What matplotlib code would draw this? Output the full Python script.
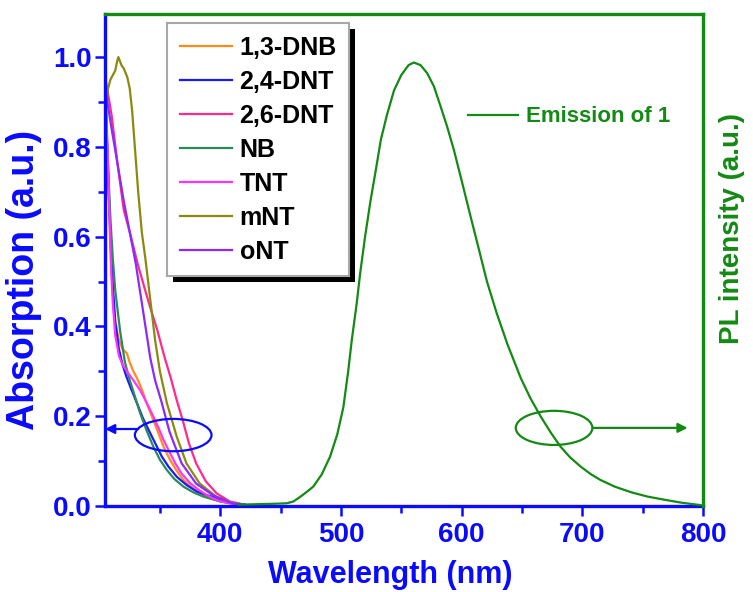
import matplotlib
matplotlib.use("Agg")
import matplotlib.pyplot as plt
from matplotlib.patches import Ellipse, Rectangle

plt.rcParams['font.family'] = ['Liberation Sans', 'DejaVu Sans']
plt.rcParams['font.weight'] = 'bold'

BLUE = '#0a0aff'
GREEN = '#138a13'

# Absorption spectra of the nitro analytes (wavelength in nm, absorbance in a.u.)
wl_dnb13 = [305, 306.5, 308, 309.5, 311, 313, 316, 319, 322.6, 325, 328, 331, 335, 339, 344,
            348.8, 353, 358.5, 364, 369.5, 376, 383, 393, 405, 420]
ab_dnb13 = [0.92, 0.80, 0.67, 0.55, 0.47, 0.41, 0.37, 0.35, 0.34, 0.32, 0.30, 0.285, 0.26, 0.229,
            0.195, 0.162, 0.132, 0.102, 0.078, 0.058, 0.042, 0.029, 0.016, 0.007, 0.003]

wl_dnt24 = [305, 307, 309, 311, 313, 316, 319, 322, 326, 331, 336, 342, 347, 351.6, 357, 364,
            372, 380.6, 389, 397, 407, 420]
ab_dnt24 = [0.90, 0.74, 0.60, 0.49, 0.41, 0.35, 0.315, 0.29, 0.262, 0.229, 0.195, 0.162, 0.135,
            0.11, 0.088, 0.065, 0.047, 0.032, 0.024, 0.018, 0.008, 0.003]

wl_dnt26 = [305, 310, 315, 320, 326, 332, 340, 348, 354, 359, 364, 369, 374, 380, 388, 397, 408, 420]
ab_dnt26 = [0.95, 0.87, 0.76, 0.66, 0.60, 0.535, 0.46, 0.39, 0.33, 0.285, 0.235, 0.19, 0.14,
            0.095, 0.055, 0.028, 0.010, 0.003]

wl_nb = [305, 307, 309, 311, 313, 317, 321, 325, 328, 333.6, 339, 344.6, 350, 355.8, 362,
         369.6, 378, 386, 400, 420]
ab_nb = [0.88, 0.76, 0.64, 0.55, 0.48, 0.39, 0.32, 0.28, 0.255, 0.207, 0.168, 0.132, 0.103,
         0.080, 0.060, 0.043, 0.030, 0.021, 0.010, 0.003]

wl_tnt = [305, 306.5, 308, 309.5, 311, 313, 316, 319, 322.6, 328, 333.6, 339, 344.6, 349, 353,
          358, 362.7, 368, 375, 382, 389, 398, 410, 420]
ab_tnt = [0.93, 0.80, 0.66, 0.53, 0.45, 0.38, 0.335, 0.315, 0.30, 0.28, 0.258, 0.23, 0.199,
          0.173, 0.147, 0.12, 0.095, 0.072, 0.051, 0.036, 0.024, 0.012, 0.005, 0.003]

wl_mnt = [305, 307, 309, 311, 313, 314.5, 315.6, 317, 318.5, 320, 321.5, 323, 325, 327, 329.5,
          332, 335, 338, 342, 346, 350, 355.8, 364, 372, 383, 397, 411, 420]
ab_mnt = [0.88, 0.93, 0.95, 0.96, 0.97, 0.99, 1.0, 0.99, 0.98, 0.975, 0.965, 0.955, 0.93, 0.88,
          0.79, 0.70, 0.61, 0.55, 0.46, 0.37, 0.30, 0.229, 0.154, 0.095, 0.050, 0.020, 0.006, 0.003]

wl_ont = [305, 310, 315, 320, 325, 330, 334, 338, 342, 346, 351, 358, 368, 380, 394, 410, 420]
ab_ont = [0.925, 0.84, 0.76, 0.68, 0.61, 0.54, 0.47, 0.40, 0.33, 0.28, 0.235, 0.165, 0.095,
          0.050, 0.024, 0.006, 0.003]

# Photoluminescence emission of compound 1
wl_em = [415, 430, 445, 455, 460.6, 466, 471, 477, 484, 491, 497, 502, 506, 509, 513, 516, 520,
         524.5, 529, 533, 538, 544, 550, 556, 560.4, 566, 571.5, 577, 582.6, 588, 593.6, 600,
         607.5, 614, 621, 629, 638, 649, 657, 665.6, 674, 682, 690, 699, 707, 715, 727, 740,
         754, 768, 783, 798]
pl_em = [0.003, 0.004, 0.005, 0.006, 0.010, 0.020, 0.030, 0.043, 0.070, 0.110, 0.160, 0.220,
         0.300, 0.370, 0.450, 0.520, 0.600, 0.680, 0.750, 0.815, 0.870, 0.926, 0.960, 0.982,
         0.988, 0.982, 0.964, 0.935, 0.890, 0.845, 0.793, 0.725, 0.644, 0.575, 0.500, 0.430,
         0.360, 0.285, 0.240, 0.199, 0.163, 0.132, 0.108, 0.087, 0.071, 0.058, 0.043, 0.031,
         0.021, 0.014, 0.007, 0.002]

series_labels = ['1,3-DNB', '2,4-DNT', '2,6-DNT', 'NB', 'TNT', 'mNT', 'oNT']
series_colors = ['#ff8c1a', '#1a1aff', '#ff2a8a', '#2a8a5a', '#ff33ff', '#8a8a10', '#8a2aff']
series_wl = [wl_dnb13, wl_dnt24, wl_dnt26, wl_nb, wl_tnt, wl_mnt, wl_ont]
series_ab = [ab_dnb13, ab_dnt24, ab_dnt26, ab_nb, ab_tnt, ab_mnt, ab_ont]

x_ticks = [400, 500, 600, 700, 800]
y_ticks = [0.0, 0.2, 0.4, 0.6, 0.8, 1.0]

fig = plt.figure(figsize=(7.53, 5.92), dpi=100)
ax = fig.add_axes([105 / 753, 86 / 592, 598 / 753, 492 / 592])
ax2 = ax.twinx()

handles = []
for wl, ab, col, lab in zip(series_wl, series_ab, series_colors, series_labels):
    h, = ax.plot(wl, ab, color=col, lw=1.6, label=lab)
    handles.append(h)

em_line, = ax2.plot(wl_em, pl_em, color=GREEN, lw=1.6)

xlim = (304.5, 800)
ylim = (0, 1.096)
ax.set_xlim(*xlim)
ax.set_ylim(*ylim)
ax2.set_ylim(*ylim)

ax.set_xticks(x_ticks)
ax.set_xticks([350, 450, 550, 650, 750], minor=True)
ax.set_yticks(y_ticks)
ax.set_yticks([0.1, 0.3, 0.5, 0.7, 0.9], minor=True)
ax.set_yticklabels([f'{v:.1f}' for v in y_ticks])

ax.tick_params(axis='both', which='major', direction='out', length=7.5, width=1.8,
               color=BLUE, labelcolor=BLUE, labelsize=20)
ax.tick_params(axis='both', which='minor', direction='out', length=5, width=1.8, color=BLUE)
ax.tick_params(axis='x', which='major', pad=4)
ax.tick_params(axis='y', which='major', pad=2)
ax.tick_params(top=False, right=False, which='both')
for t in ax.get_xticklabels() + ax.get_yticklabels():
    t.set_fontweight('bold')

ax2.tick_params(right=False, labelright=False, which='both')

for s in ['left', 'bottom']:
    ax.spines[s].set_color(BLUE)
    ax.spines[s].set_linewidth(2.4)
for s in ['top', 'right']:
    ax.spines[s].set_visible(False)
for s in ['left', 'bottom']:
    ax2.spines[s].set_visible(False)
for s in ['top', 'right']:
    ax2.spines[s].set_color(GREEN)
    ax2.spines[s].set_linewidth(2.4)

ax.set_xlabel('Wavelength (nm)', color=BLUE, fontsize=22, fontweight='bold')
ax.xaxis.set_label_coords(0.4766, -0.140)
ax.xaxis.label.set_va('center')
ax.set_ylabel('Absorption (a.u.)', color=BLUE, fontsize=27, fontweight='bold', va='center')
ax.yaxis.set_label_coords(-0.135, 0.459)
ax2.set_ylabel('PL intensity (a.u.)', color=GREEN, fontsize=20, fontweight='bold',
               va='center', rotation=90)
ax2.yaxis.set_label_coords(1.0485, 0.564)

# Guide ellipses with arrows pointing to the matching axis
ax.add_patch(Ellipse((361, 0.158), 63.5, 0.072, fill=False, ec=BLUE, lw=1.6, zorder=6))
ax.annotate('', xy=(xlim[0], 0.1715), xytext=(332, 0.1715),
            arrowprops=dict(arrowstyle='-|>', color=BLUE, lw=1.6, mutation_scale=14,
                            shrinkA=0, shrinkB=0), zorder=6)
ax2.add_patch(Ellipse((676.6, 0.174), 63.5, 0.076, fill=False, ec=GREEN, lw=1.6, zorder=6))
ax2.annotate('', xy=(787.3, 0.174), xytext=(708.5, 0.174),
             arrowprops=dict(arrowstyle='-|>', color=GREEN, lw=1.6, mutation_scale=14,
                             shrinkA=0, shrinkB=0), zorder=6)

leg1 = ax2.legend(handles, series_labels, loc='upper left', bbox_to_anchor=(0.1037, 0.9817),
                  borderaxespad=0, prop={'weight': 'bold', 'size': 18},
                  handlelength=2.1, handletextpad=0.3, labelspacing=0.4, borderpad=0.5,
                  fancybox=False, framealpha=1, edgecolor='#a8a8a8')
leg1.get_frame().set_linewidth(1.5)
leg1.set_zorder(10)
ax2.add_artist(leg1)

leg2 = ax2.legend([em_line], ['Emission of 1'], loc='center left', bbox_to_anchor=(0.607, 0.791),
                  borderaxespad=0, borderpad=0, frameon=False,
                  prop={'weight': 'bold', 'size': 16}, handlelength=2.25, handletextpad=0.35,
                  labelcolor=GREEN)

# Solid black drop shadow behind the analyte legend
fig.canvas.draw()
bb = leg1.get_frame().get_window_extent(fig.canvas.get_renderer())
inv = ax2.transAxes.inverted()
(x0, y0) = inv.transform((bb.x0 + 6, bb.y0 - 6))
(x1, y1) = inv.transform((bb.x1 + 6, bb.y1 - 6))
ax2.add_patch(Rectangle((x0, y0), x1 - x0, y1 - y0, transform=ax2.transAxes,
                        facecolor='black', edgecolor='none', zorder=9.5, clip_on=False))

fig.savefig('out.png', dpi=100)
